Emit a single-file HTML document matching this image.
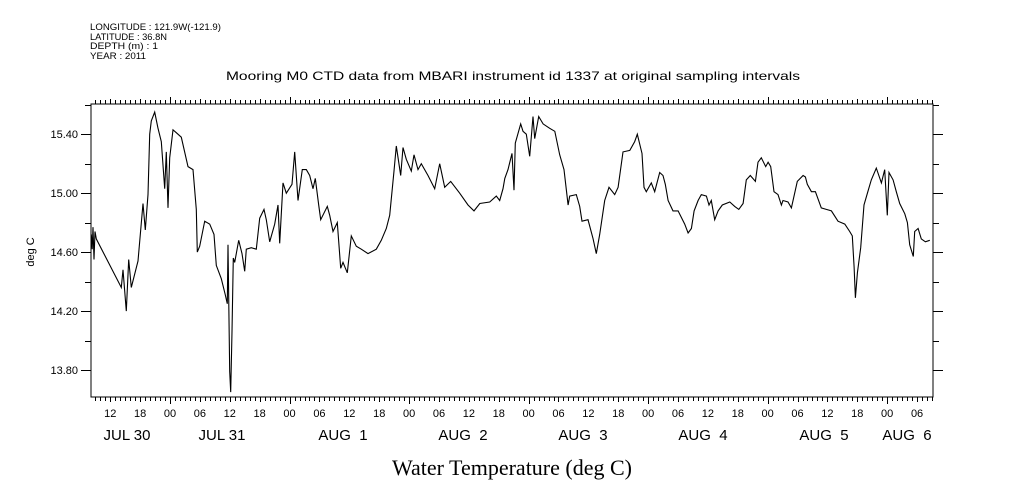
<!DOCTYPE html>
<html><head><meta charset="utf-8"><style>
body{margin:0;background:#fff;}
svg{display:block;font-family:"Liberation Sans",sans-serif;}
</style></head><body>
<svg id="chart" width="1009" height="504" viewBox="0 0 1009 504" xmlns="http://www.w3.org/2000/svg">
<rect width="1009" height="504" fill="#fff"/>
<g font-size="9" fill="#000">
<text x="90" y="30" textLength="131" lengthAdjust="spacingAndGlyphs">LONGITUDE : 121.9W(-121.9)</text>
<text x="90" y="40" textLength="77" lengthAdjust="spacingAndGlyphs">LATITUDE : 36.8N</text>
<text x="90" y="49" textLength="68" lengthAdjust="spacingAndGlyphs">DEPTH (m) : 1</text>
<text x="90" y="59" textLength="56" lengthAdjust="spacingAndGlyphs">YEAR : 2011</text>
</g>
<text x="226" y="80" font-size="12" textLength="574" lengthAdjust="spacingAndGlyphs">Mooring M0 CTD data from MBARI instrument id 1337 at original sampling intervals</text>
<text transform="translate(34,252) rotate(-90)" font-size="11" text-anchor="middle">deg C</text>
<text x="512" y="475" font-family="'Liberation Serif',serif" font-size="22" text-anchor="middle">Water Temperature (deg C)</text>
<rect x="91" y="104" width="842" height="293" fill="none" stroke="#000" stroke-width="1"/>
<g id="axes"></g>
<path id="series" fill="none" stroke="#000" stroke-width="1.1"/>
</svg>
<script>
const hours = [8.19,8.37,8.53,8.73,8.94,9.20,14.22,14.56,15.22,15.70,16.22,17.57,18.57,19.04,19.58,19.92,20.24,20.92,21.59,22.25,22.93,23.25,23.59,23.94,24.60,25.26,26.26,27.61,28.61,29.28,29.48,29.96,30.96,31.97,32.83,33.29,34.30,35.10,35.50,35.64,35.98,36.18,36.45,36.71,36.99,37.79,38.45,39.00,39.32,40.32,41.32,42.01,42.87,43.33,44.01,45.02,45.68,46.02,46.69,47.35,48.49,49.04,49.70,50.56,51.37,52.05,52.71,53.17,53.86,54.26,55.58,56.06,56.73,57.59,58.27,58.73,59.60,60.40,61.40,62.41,63.75,65.42,66.43,67.43,68.11,68.98,69.44,70.32,70.78,71.45,72.45,72.99,73.80,74.46,75.80,77.15,78.15,79.16,80.36,82.17,83.84,85.04,86.19,88.19,89.52,90.20,90.86,91.21,91.87,92.67,93.07,93.33,94.42,94.88,95.54,96.22,96.89,97.23,98.03,98.90,100.24,101.25,102.25,103.11,103.92,104.26,105.58,106.26,106.73,107.93,108.94,109.60,110.28,111.28,112.15,113.29,113.96,114.96,116.31,117.31,117.83,118.77,119.17,119.64,120.64,121.32,122.33,122.99,123.45,124.00,125.00,126.01,127.35,128.02,128.68,129.22,130.03,130.68,131.69,132.23,132.69,133.37,134.04,134.90,136.39,137.39,138.20,139.06,139.72,140.52,141.53,142.07,142.73,143.61,144.08,144.62,145.28,146.08,146.75,147.09,148.09,148.76,149.96,151.11,151.57,151.97,152.78,153.58,154.78,155.78,156.79,158.13,159.48,160.48,161.00,161.35,161.61,162.01,162.69,163.35,164.02,164.82,165.82,166.83,167.51,168.03,168.37,169.18,169.84,170.52,171.53,172.05,172.53,173.25,173.53,174.20,174.86,175.67,176.55];
const temps = [14.72,14.62,14.77,14.55,14.74,14.69,14.36,14.48,14.20,14.55,14.36,14.54,14.93,14.75,14.99,15.40,15.49,15.55,15.44,15.35,15.03,15.28,14.90,15.24,15.43,15.41,15.38,15.18,15.16,14.89,14.60,14.64,14.81,14.79,14.72,14.51,14.42,14.31,14.25,14.65,13.79,13.65,14.06,14.56,14.53,14.68,14.59,14.47,14.62,14.63,14.62,14.83,14.89,14.82,14.67,14.79,14.92,14.66,15.07,15.00,15.06,15.28,14.95,15.16,15.16,15.12,15.03,15.10,14.92,14.82,14.91,14.85,14.74,14.80,14.49,14.53,14.46,14.71,14.64,14.62,14.59,14.62,14.68,14.76,14.85,15.15,15.32,15.12,15.31,15.23,15.15,15.26,15.16,15.20,15.12,15.03,15.20,15.04,15.08,15.00,14.92,14.88,14.93,14.94,14.98,14.95,15.03,15.10,15.16,15.27,15.02,15.34,15.47,15.42,15.40,15.25,15.52,15.37,15.52,15.47,15.44,15.42,15.26,15.16,14.92,14.98,14.99,14.91,14.81,14.82,14.69,14.59,14.72,14.95,15.04,14.99,15.04,15.28,15.29,15.35,15.40,15.27,15.04,15.01,15.07,15.01,15.14,15.12,15.06,14.95,14.88,14.88,14.79,14.73,14.76,14.88,14.95,14.99,14.98,14.92,14.95,14.82,14.88,14.92,14.94,14.91,14.89,14.93,15.09,15.12,15.08,15.21,15.24,15.18,15.21,15.18,15.01,14.99,14.92,14.95,14.94,14.90,15.08,15.12,15.11,15.06,15.01,15.01,14.90,14.89,14.88,14.81,14.79,14.74,14.71,14.50,14.29,14.46,14.63,14.92,15.00,15.09,15.17,15.07,15.16,14.85,15.14,15.09,15.01,14.93,14.86,14.80,14.65,14.57,14.74,14.76,14.69,14.67,14.68];
const yTicks = [13.80,14.20,14.60,15.00,15.40];
const yTickLabels = ["13.80","14.20","14.60","15.00","15.40"];
const dayLabels = ["JUL 30","JUL 31","AUG  1","AUG  2","AUG  3","AUG  4","AUG  5","AUG  6"];

const X0=91,X1=933,Y0=104,Y1=397;
const H0=8.13,H1=177.2,T0=13.617,T1=15.605;
const xs=h=>X0+(h-H0)/(H1-H0)*(X1-X0);
const ys=t=>Y1-(t-T0)/(T1-T0)*(Y1-Y0);
const NS="http://www.w3.org/2000/svg";
const ax=document.getElementById('axes');
function mk(tag,attrs,parent){const e=document.createElementNS(NS,tag);for(const k in attrs)e.setAttribute(k,attrs[k]);(parent||ax).appendChild(e);return e;}

let d="";
hours.forEach((h,i)=>{d+=(i?"L":"M")+xs(hours[i]).toFixed(1)+","+ys(temps[i]).toFixed(1);});
document.getElementById('series').setAttribute('d',d);

let td="";
for(let h=Math.ceil(H0);h<=H1;h++){
  const x=Math.round(xs(h))+0.5;
  const len=(h%24===0)?7:(h%6===0?5:4);
  td+=`M${x},${Y1}v${len}M${x},${Y0}v${-len}`;
}
for(let t=13.7;t<=15.6;t+=0.1){
  const y=Math.round(ys(t))+0.5;
  const k=Math.round(t*10);
  const len=(k%4===2)?10:(k%2===0?6:0);
  if(len) td+=`M${X0},${y}h${-len}M${X1},${y}h${len}`;
}
const tk=mk('path',{d:td,stroke:'#000','stroke-width':1,fill:'none'});



yTicks.forEach((t,i)=>{
  const e=mk('text',{x:78,y:ys(t)+4,'font-size':11,'text-anchor':'end'});
  e.textContent=yTickLabels[i];
  
  
});

for(let h=12;h<=H1;h+=6){
  const e=mk('text',{x:xs(h),y:417,'font-size':11,'text-anchor':'middle'});
  e.textContent=String(h%24).padStart(2,'0');
  
  
}
const dayX=[127,222,343,463,583,703,824,907];
dayLabels.forEach((lab,i)=>{
  const e=mk('text',{x:dayX[i],y:440,'font-size':15,'text-anchor':'middle'});
  e.style.whiteSpace='pre';
  e.textContent=lab;
  
  
});
</script>
</body></html>
